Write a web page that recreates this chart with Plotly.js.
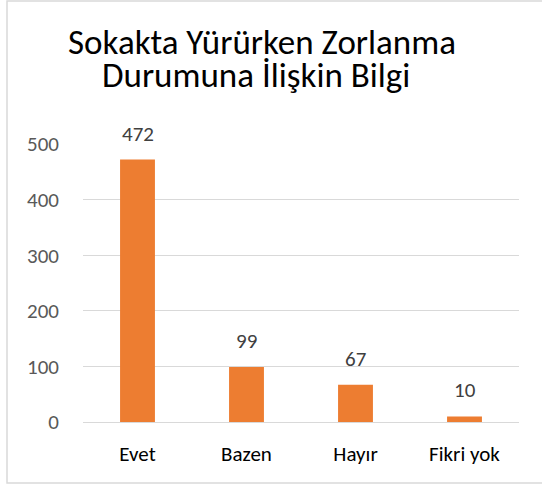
<!DOCTYPE html>
<html>
<head>
<meta charset="utf-8">
<script src="https://cdn.plot.ly/plotly-3.0.1.min.js"></script>
<style>
  html, body { margin: 0; padding: 0; background: #ffffff; }
  #chart { width: 542px; height: 486px; }
</style>
</head>
<body>
<div id="chart"></div>
<script>
const categories = ["Evet", "Bazen", "Hayır", "Fikri yok"];
const values = [472, 99, 67, 10];
const tickValues = [0, 100, 200, 300, 400, 500];
const tickLabels = ["0", "100", "200", "300", "400", "500"];
const titleLine1 = "Sokakta Yürürken Zorlanma";
const titleLine2 = "Durumuna İlişkin Bilgi";

const FONT = "Carlito, Lato, 'Open Sans', sans-serif";

const trace = {
  type: "bar",
  x: categories,
  y: values,
  marker: { color: "#ED7D31" },
  width: 0.32,
  hoverinfo: "skip"
};

const annotations = categories.map((c, i) => ({
  x: c,
  y: values[i],
  xref: "x",
  yref: "y",
  text: String(values[i]),
  showarrow: false,
  yanchor: "bottom",
  yshift: 11,
  font: { family: FONT, size: 21, color: "#404040" }
}));

annotations.push({
  text: titleLine2,
  xref: "paper",
  yref: "paper",
  x: 0.397,
  y: 1.2482,
  xanchor: "center",
  yanchor: "middle",
  showarrow: false,
  font: { family: FONT, size: 35, color: "#000000" }
});

const layout = {
  width: 542,
  height: 486,
  margin: { l: 83, r: 23, t: 144, b: 64 },
  paper_bgcolor: "#ffffff",
  plot_bgcolor: "#ffffff",
  title: {
    text: titleLine1,
    font: { family: FONT, size: 35, color: "#000000" },
    x: 0.4834,
    xref: "container",
    xanchor: "center",
    y: 0.9136,
    yref: "container",
    yanchor: "middle"
  },
  xaxis: {
    type: "category",
    showgrid: false,
    showline: false,
    zeroline: false,
    ticks: "",
    tickfont: { family: FONT, size: 21, color: "#000000" },
    ticklabelstandoff: 17
  },
  yaxis: {
    range: [0, 500],
    tickvals: tickValues,
    ticktext: tickLabels,
    showgrid: true,
    gridcolor: "#d9d9d9",
    gridwidth: 1,
    zeroline: true,
    zerolinecolor: "#d9d9d9",
    zerolinewidth: 1,
    showline: false,
    ticks: "",
    tickfont: { family: FONT, size: 21, color: "#595959" },
    ticklabelstandoff: 23
  },
  annotations: annotations,
  shapes: [{
    type: "rect",
    xref: "paper",
    yref: "paper",
    x0: -0.1743, x1: 1.1,
    y0: -0.2194, y1: 1.514,
    line: { color: "#d9d9d9", width: 1.5 },
    fillcolor: "rgba(0,0,0,0)",
    layer: "below"
  }],
  showlegend: false,
  bargap: 0.68
};

Plotly.newPlot("chart", [trace], layout, { displayModeBar: false, staticPlot: true });
</script>
</body>
</html>
